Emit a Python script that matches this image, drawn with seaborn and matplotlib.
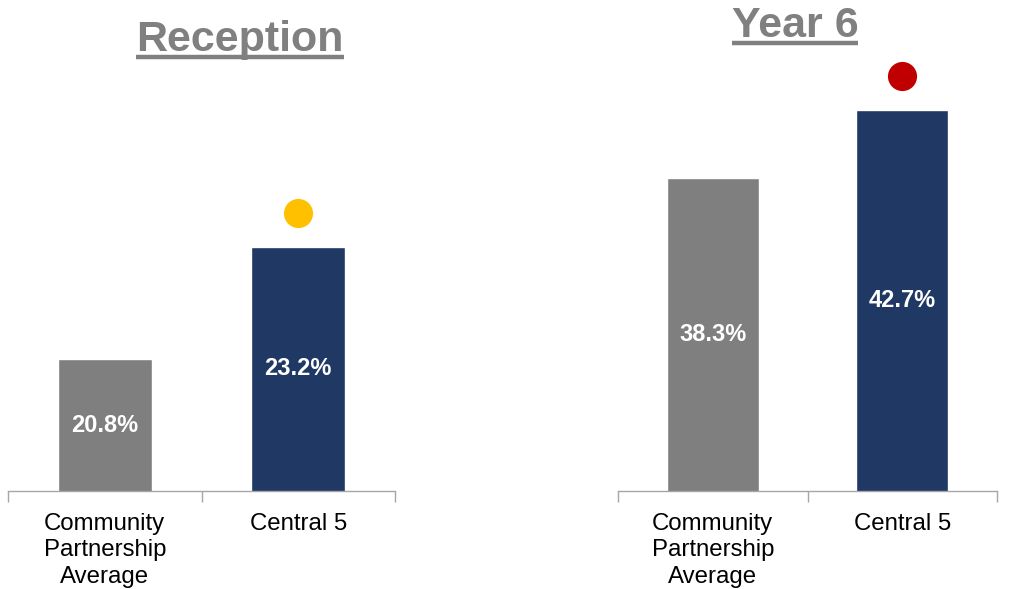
"""
Reception vs Year 6 comparison: Community Partnership Average against Central 5.
"""
import matplotlib
matplotlib.use("Agg")
import matplotlib.pyplot as plt
from matplotlib.lines import Line2D
from matplotlib.transforms import offset_copy
import seaborn as sns

# Data
categories = ["Community\nPartnership\nAverage", "Central 5"]
reception_values = [20.8, 23.2]
year6_values = [38.3, 42.7]
panel_titles = ["Reception", "Year 6"]
status_colors = ["#FFC000", "#C00000"]  # RAG dot over Central 5

BAR_COLORS = ["#7F7F7F", "#203864"]
TITLE_GREY = "#808080"
AXIS_GREY = "#A6A6A6"


def draw_panel(fig, ax, values, dot_color, ymax):
    sns.barplot(
        x=categories,
        y=values,
        hue=categories,
        palette=BAR_COLORS,
        width=0.485,
        legend=False,
        saturation=1,
        ax=ax,
    )
    ax.set_xlim(-0.5, 1.5)
    ax.set_ylim(18, ymax)

    # value labels in the middle of each bar
    for i, v in enumerate(values):
        ax.text(i, (18 + v) / 2, f"{v:.1f}%", ha="center", va="center",
                color="white", fontsize=17, weight="bold")

    # status dot a fixed distance above the Central 5 bar
    trans = offset_copy(ax.transData, fig=fig, x=0, y=34, units="dots")
    ax.scatter([1], [values[1]], s=440, color=dot_color, transform=trans,
               clip_on=False, zorder=5, linewidths=0)

    # axes styling: only the category axis, ticks at category boundaries
    for side in ["left", "top", "right"]:
        ax.spines[side].set_visible(False)
    ax.spines["bottom"].set_color(AXIS_GREY)
    ax.spines["bottom"].set_linewidth(1.0)
    ax.set_yticks([])
    ax.set_xticks([0, 1])
    ax.set_xticklabels(categories, fontsize=17.3, color="black",
                       linespacing=1.27)
    ax.set_xticks([-0.5, 0.5, 1.5], minor=True)
    ax.tick_params(axis="x", which="major", bottom=True, length=0, pad=15.5)
    ax.tick_params(axis="x", which="minor", bottom=True, length=8, width=1,
                   color=AXIS_GREY, direction="out")
    ax.set_xlabel("")
    ax.set_ylabel("")
    ax.grid(False)


def underlined_title(fig, text, x, y):
    t = fig.text(x, y, text, ha="center", va="baseline", fontsize=31,
                 weight="bold", color=TITLE_GREY)
    fig.canvas.draw()
    bb = t.get_window_extent().transformed(fig.transFigure.inverted())
    uy = y - 5.5 / fig.bbox.height
    fig.add_artist(Line2D([bb.x0, bb.x1], [uy, uy], transform=fig.transFigure,
                          color=TITLE_GREY, linewidth=3.2,
                          solid_capstyle="butt"))


def main():
    sns.set_theme(style="white")
    plt.rcParams["font.family"] = ["Liberation Sans", "DejaVu Sans"]

    fig = plt.figure(figsize=(10.15, 5.89), dpi=100)
    ax_left = fig.add_axes([8 / 1015, 98 / 589, 387 / 1015, 491 / 589])
    ax_right = fig.add_axes([618 / 1015, 98 / 589, 379 / 1015, 491 / 589])

    draw_panel(fig, ax_left, reception_values, status_colors[0], 18 + 491 / 47.0)
    draw_panel(fig, ax_right, year6_values, status_colors[1], 18 + 491 / 15.41)

    underlined_title(fig, panel_titles[0], 240 / 1015, 1 - 51 / 589)
    underlined_title(fig, panel_titles[1], 795 / 1015, 1 - 37 / 589)

    fig.savefig("out.png", dpi=100)


if __name__ == "__main__":
    main()
